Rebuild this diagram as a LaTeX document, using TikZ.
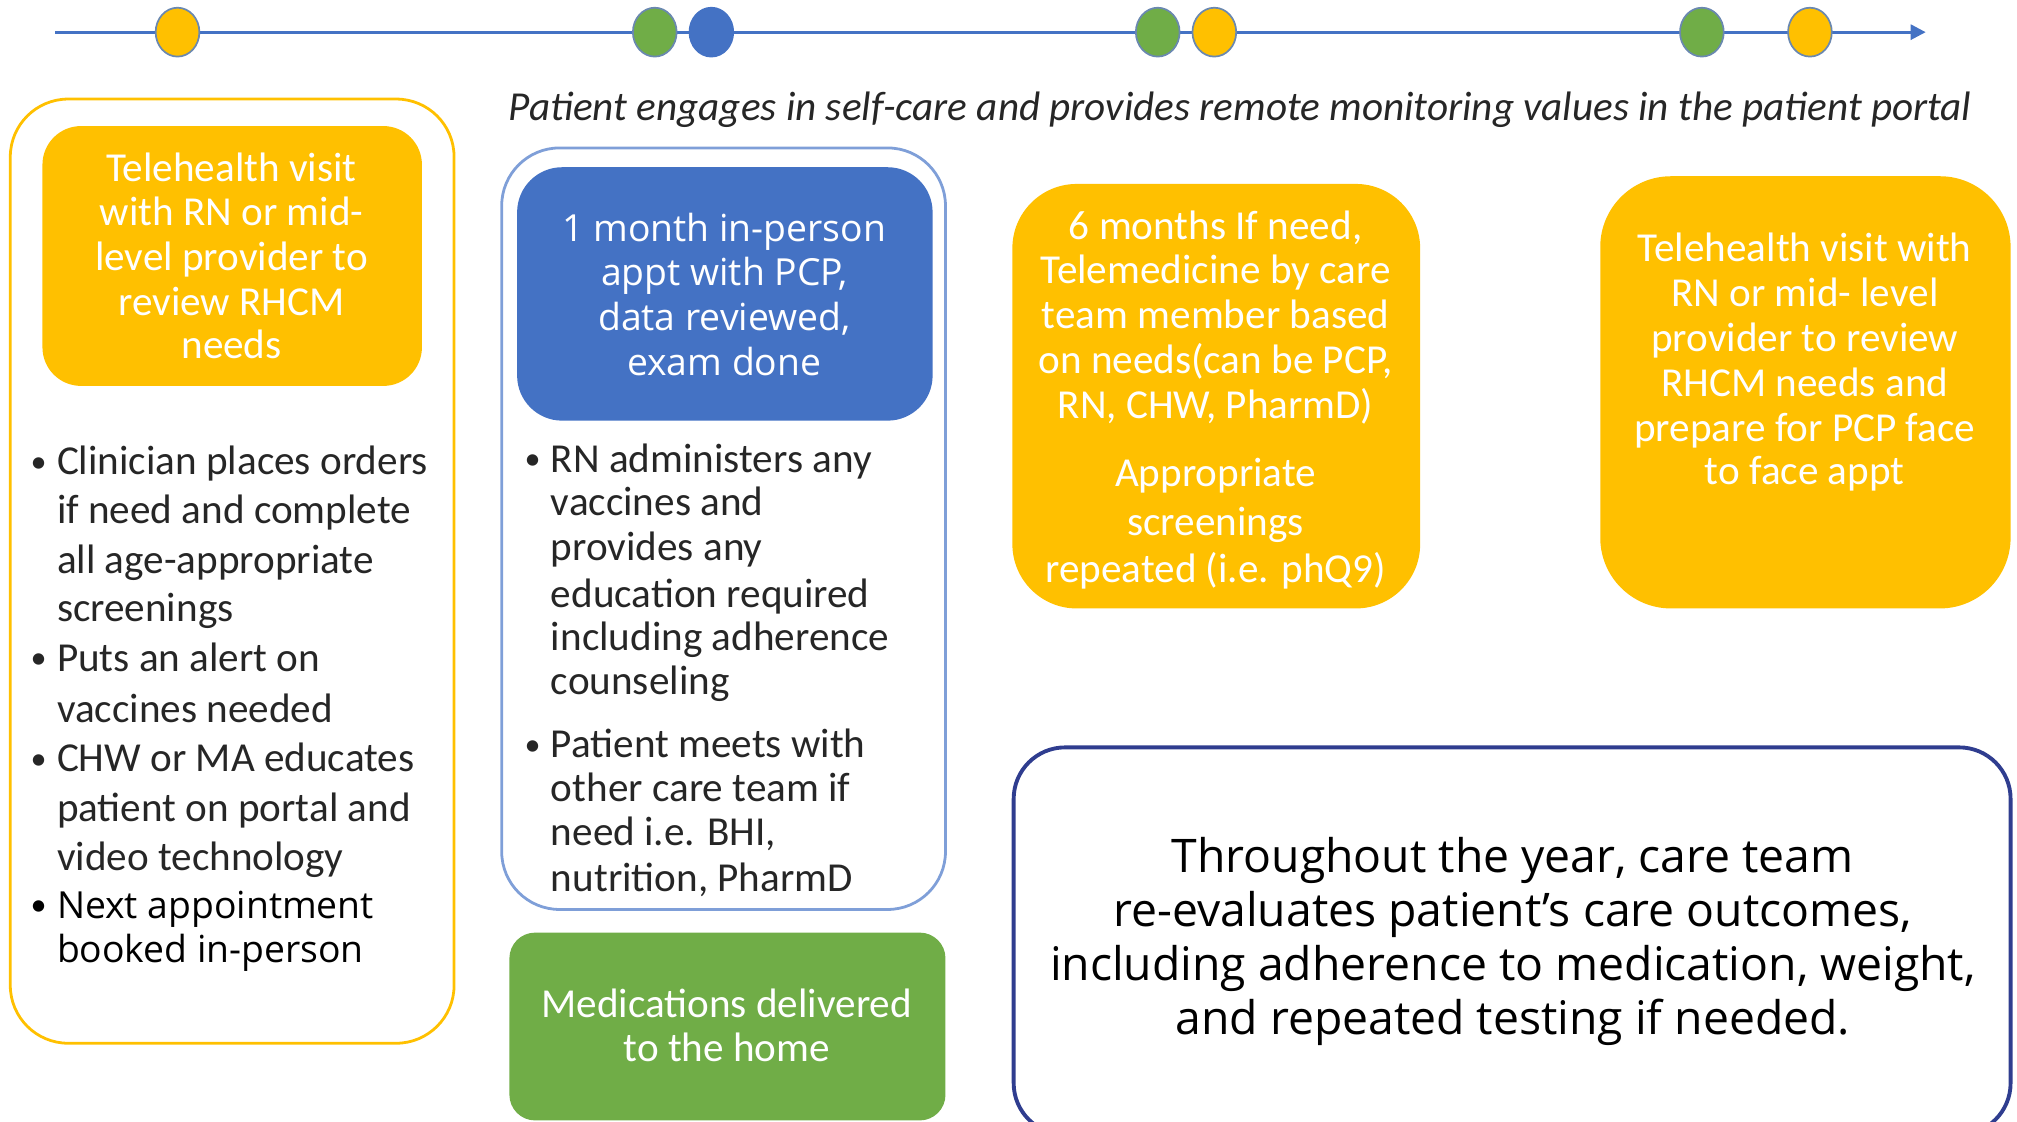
\documentclass[tikz,border=0pt]{standalone}
\usepackage{fontspec}
\setmainfont{Carlito}
\newfontfamily\geo{Open Sans}
\usetikzlibrary{arrows.meta,shapes.geometric}
\definecolor{cOr}{HTML}{FFC000}
\definecolor{cGr}{HTML}{70AD47}
\definecolor{cBl}{HTML}{4472C4}
\definecolor{cBlLine}{HTML}{7F9FD8}
\definecolor{cNavy}{HTML}{2F3D8F}
\definecolor{cTxt}{HTML}{262626}
\definecolor{cOut}{HTML}{6A88B0}
\tikzset{
  dot/.style={ellipse, minimum width=20.4pt, minimum height=22.8pt, inner sep=0pt, draw=cOut, line width=0.8pt},
  body/.style={font=\fontsize{19.2}{21}\selectfont, text=cTxt, inner sep=0pt},
  wbody/.style={font=\fontsize{19.2}{21}\selectfont, text=white, inner sep=0pt},
  bul/.style={font=\fontsize{15}{17}\selectfont, text=cTxt, inner sep=0pt},
  geobody/.style={font=\geo\fontsize{17.4}{20}\selectfont, inner sep=0pt},
  bigbody/.style={font=\geo\fontsize{21.6}{25}\selectfont, text=black, inner sep=0pt},
}
\begin{document}
\begin{tikzpicture}[x=0.6pt,y=-0.6pt]
\useasboundingbox (0,0) rectangle (1568,872);
% timeline
\coordinate (tlA) at (43,25);
\coordinate (tlB) at (1497,25);
\draw[cBl, line width=1.3pt, -{Triangle[length=7pt,width=7pt]}] (tlA) -- (tlB);
\node[dot, fill=cOr] (c1) at (138,25) {};
\node[dot, fill=cGr] (c2) at (509,25) {};
\node[dot, fill=cBl, draw=cBl] (c3) at (553,25) {};
\node[dot, fill=cGr] (c4) at (900,25) {};
\node[dot, fill=cOr] (c5) at (944,25) {};
\node[dot, fill=cGr] (c6) at (1323,25) {};
\node[dot, fill=cOr] (c7) at (1407,25) {};
% italic caption
\node[body, anchor=base, font=\itshape\fontsize{19.2}{21}\selectfont] (cap) at (964,94) {Patient engages in self-care and provides remote monitoring values in the patient portal};
% boxes
\draw[cOr, line width=1.3pt, rounded corners=27pt] (8,77) rectangle (353,811);
\fill[cOr, rounded corners=18pt] (33,98) rectangle (328,300);
\draw[cBlLine, line width=1.3pt, rounded corners=27pt] (390,115) rectangle (735,707);
\fill[cBl, rounded corners=21pt] (402,130) rectangle (725,327);
\fill[cGr, rounded corners=12pt] (396,725) rectangle (735,871);
\fill[cOr, rounded corners=30pt] (787,143) rectangle (1104,473);
\fill[cOr, rounded corners=33pt] (1244,137) rectangle (1563,473);
\draw[cNavy, line width=1.8pt, rounded corners=24pt] (788,581) rectangle (1563,882);
% left orange box text
\foreach \yy/\tx [count=\i] in {141/{Telehealth visit},175/{with RN or mid-},210/{level provider to},245/{review RHCM},279/{needs}}
  \node[wbody, anchor=base] (la\i) at (180,\yy) {\tx};
% left bullets
\foreach \yy/\tx [count=\i] in {369/{Clinician places orders},407/{if need and complete},446/{all age-appropriate},483/{screenings},522/{Puts an alert on},562/{vaccines needed},600/{CHW or MA educates},639/{patient on portal and},677/{video technology}}
  \node[body, anchor=base west] (lb\i) at (44,\yy) {\tx};
\foreach \yy [count=\i] in {367,520,598}
  \node[bul, anchor=base] (lbb\i) at (30,\yy) {\textbullet};
\node[geobody, anchor=base west] (lc1) at (44,714) {Next appointment};
\node[geobody, anchor=base west] (lc2) at (44,748) {booked in-person};
\node[bul, anchor=base, text=black] (lcb) at (30,712) {\textbullet};
% middle blue box text
\foreach \yy/\tx [count=\i] in {188/{1 month in-person},222/{appt with PCP,},257/{data reviewed,},292/{exam done}}
  \node[geobody, text=white, anchor=base] (ma\i) at (563,\yy) {\tx};
% middle bullets
\foreach \yy/\tx [count=\i] in {367/{RN administers any},401/{vaccines and},436/{provides any},472/{education required},506/{including adherence},540/{counseling},589/{Patient meets with},623/{other care team if},657/{need i.e. BHI,},693/{nutrition, PharmD}}
  \node[body, anchor=base west] (mb\i) at (428,\yy) {\tx};
\foreach \yy [count=\i] in {365,587}
  \node[bul, anchor=base] (mbb\i) at (414,\yy) {\textbullet};
% green box
\node[wbody, anchor=base] (g1) at (565,791) {Medications delivered};
\node[wbody, anchor=base] (g2) at (565,825) {to the home};
% orange box 2
\foreach \yy/\tx [count=\i] in {186/{6 months If need,},220/{Telemedicine by care},255/{team member based},290/{on needs(can be PCP,},325/{RN, CHW, PharmD)},378/{Appropriate},416/{screenings},453/{repeated (i.e. phQ9)}}
  \node[wbody, anchor=base] (oa\i) at (945,\yy) {\tx};
% orange box 3
\foreach \yy/\tx [count=\i] in {203/{Telehealth visit with},238/{RN or mid- level},273/{provider to review},308/{RHCM needs and},343/{prepare for PCP face},377/{to face appt}}
  \node[wbody, anchor=base] (ob\i) at (1403,\yy) {\tx};
% bottom right
\foreach \yy/\tx [count=\i] in {678/{Throughout the year, care team},720/{re-evaluates patient’s care outcomes,},762/{including adherence to medication, weight,},804/{and repeated testing if needed.}}
  \node[bigbody, anchor=base] (br\i) at (1176,\yy) {\tx};
\end{tikzpicture}
\end{document}
